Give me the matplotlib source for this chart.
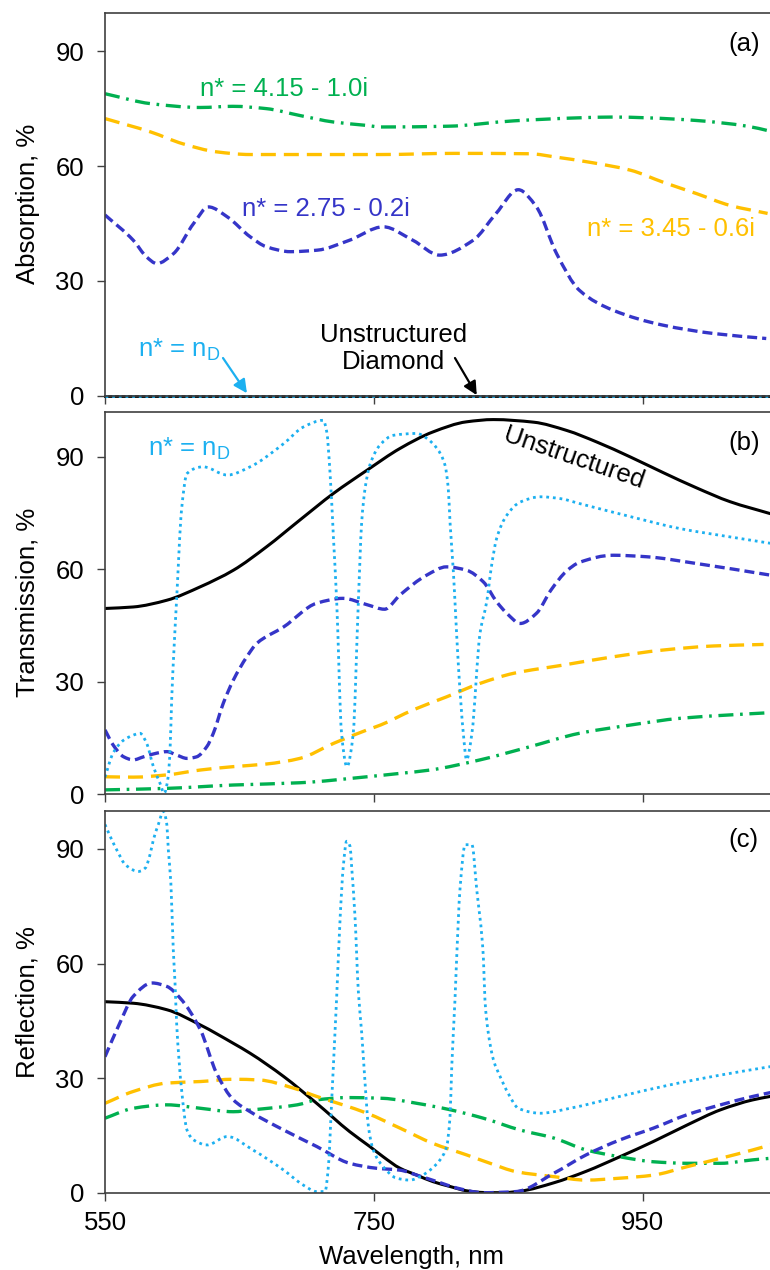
import matplotlib
matplotlib.use("Agg")
import matplotlib.pyplot as plt
import numpy as np
from matplotlib.path import Path
from matplotlib.patches import PathPatch

plt.rcParams['font.family'] = ['Liberation Sans', 'DejaVu Sans']
plt.rcParams['font.size'] = 18.5

# colours of the four effective-index series
C_GREEN = '#00B050'
C_ORANGE = '#FFC000'
C_BLUE = '#3535C8'
C_CYAN = '#1CB0F0'

# ---------------- (a) Absorption ----------------
a_wl_green = [550, 584, 621, 645, 670, 695, 720, 745, 755, 805, 854, 903, 928, 953, 990, 1028, 1045]
a_green = [78.9, 76.3, 75.3, 75.6, 75.0, 73.2, 71.5, 70.6, 70.2, 70.4, 71.8, 72.6, 72.8, 72.6, 71.9, 70.4, 69.1]

a_wl_orange = [550, 584, 608, 633, 658, 700, 755, 810, 866, 886, 912, 941, 965, 990, 1015, 1043]
a_orange = [72.4, 68.9, 65.8, 63.7, 63.0, 63.0, 63.0, 63.3, 63.2, 62.3, 60.9, 58.9, 55.8, 52.8, 49.7, 47.6]

a_wl_blue = [550, 571, 581, 588.5, 601, 616, 627, 641, 658, 670, 688, 708, 732, 757, 779, 799,
             824, 841, 857.5, 871, 886, 903, 928, 965, 1003, 1042]
a_blue = [47.2, 40.6, 36.2, 34.5, 37.1, 45.0, 49.3, 46.7, 41.5, 38.9, 37.6, 38.0, 40.6, 44.1, 40.6, 36.7,
          40.6, 47.6, 53.8, 49.3, 37.1, 27.5, 22.3, 18.4, 16.2, 14.9]

a_wl_flat = [550, 1050]
a_black = [0, 0]
a_cyan = [0, 0]

# ---------------- (b) Transmission ----------------
b_wl_black = [550, 571, 596, 621, 645.5, 670, 695, 720, 745, 769.5, 794, 819, 839, 869, 893.5,
              916, 941, 965, 990, 1015, 1045]
b_black = [49.5, 49.9, 51.7, 55.3, 59.7, 65.9, 73.1, 80.2, 86.4, 92.2, 96.6, 99.3, 99.9, 99.2, 97.0,
           93.9, 89.9, 85.8, 81.7, 78.0, 74.8]

b_wl_cyan = [550, 556, 564, 571, 576, 581, 586, 591, 594, 597, 598.4, 599.6, 601.3, 603.3, 607, 611,
             623, 641, 658, 683, 697.5, 712.4, 715, 717.4, 720, 722.4, 726, 730, 734.7, 738.5, 741,
             743.5, 747, 754.6, 764.5, 782, 789.4, 797, 803, 805.4, 806.7, 809.2, 810.4, 813, 816.6,
             819, 823, 829, 834, 837.7, 841.4, 849, 859, 874, 889, 903, 941, 978, 1015, 1045]
b_cyan = [4.5, 10.9, 14.4, 15.7, 16.2, 13.5, 7.3, 2.8, 0.2, 4.6, 11.7, 25.1, 38.4, 52.0, 76.0, 85.5,
          87.3, 85.1, 87.3, 93.5, 97.9, 99.7, 96.6, 85.9, 68.2, 51.3, 16.2, 7.3, 16.2, 51.3, 72.6,
          81.5, 87.7, 93.1, 95.7, 96.2, 94.9, 92.2, 87.7, 81.5, 72.6, 59.3, 51.3, 33.9, 16.2,
          9.1, 16.2, 42.8, 51.3, 61.1, 68.2, 74.4, 77.9, 79.3, 78.8, 77.5, 74.0, 70.8, 68.6, 66.9]

b_wl_blue = [550, 556, 564, 571, 578.5, 588.5, 596, 603.3, 611, 618, 625.7, 630.6, 638, 645.5, 655.5,
             663, 683, 707.5, 727, 745, 758, 769.5, 789.4, 804, 819, 831.5, 841.4, 849, 859, 871,
             882, 893.5, 903, 928, 953, 990, 1045]
b_blue = [17.1, 13.1, 9.9, 9.1, 9.9, 10.9, 11.3, 10.4, 9.5, 9.9, 12.6, 16.2, 24.2, 30.4, 36.6,
          40.2, 44.6, 50.9, 52.2, 50.5, 49.3, 53.1, 58.4, 60.6, 59.7, 56.6, 51.3, 48.2, 45.5, 48.2,
          54.5, 59.5, 61.8, 63.7, 63.3, 61.5, 58.4]

b_wl_orange = [550, 571, 596, 621, 645.5, 670, 695, 720, 745, 755, 779, 804, 829, 854, 891, 928, 965, 1003, 1040]
b_orange = [4.6, 4.5, 5.1, 6.4, 7.3, 8.0, 9.5, 13.5, 17.1, 18.4, 22.4, 25.9, 29.5, 32.2, 34.4, 36.6, 38.4, 39.5, 39.9]

b_wl_green = [550, 596, 645.5, 695, 745, 769.5, 792, 829, 866, 903, 941, 978, 1015, 1045]
b_green = [1.1, 1.5, 2.4, 3.0, 4.6, 5.5, 6.4, 9.1, 12.6, 16.2, 18.4, 20.2, 21.1, 21.7]

# ---------------- (c) Reflection ----------------
c_wl_black = [550, 571, 596, 621, 645.5, 658, 683, 707.5, 732, 747, 757, 769.5, 782, 794, 807, 819,
              831.5, 846, 859, 884, 908, 933, 958, 983, 1008, 1032, 1045]
c_black = [50.0, 49.6, 47.9, 43.9, 39.1, 36.5, 30.4, 23.4, 16.0, 12.1, 9.4, 6.4, 4.6, 2.9, 1.6, 0.5,
           0.05, 0.0, 0.4, 2.6, 5.6, 9.4, 13.4, 17.7, 21.7, 24.3, 25.2]

c_wl_blue = [550, 561, 571, 585, 596, 606, 621, 633, 645.5, 658, 683, 707.5, 732, 752, 769.5, 782,
             797, 812, 831.5, 856, 884, 908, 933, 958, 983, 1008, 1032, 1045]
c_blue = [35.6, 44.4, 51.4, 54.9, 54.0, 50.9, 42.6, 31.3, 24.3, 21.2, 16.4, 12.1, 7.7, 6.4, 5.9, 4.6,
          2.9, 1.2, 0.0, 0.3, 5.1, 9.9, 13.8, 16.9, 20.4, 23.0, 25.2, 26.2]

c_wl_orange = [550, 571, 596, 621, 645.5, 665, 690, 707.5, 727, 745, 769.5, 794, 819, 836.5, 856,
               884, 908, 933, 958, 983, 1008, 1032, 1045]
c_orange = [23.4, 26.5, 28.7, 29.1, 29.7, 29.5, 27.4, 25.2, 23.0, 20.8, 16.9, 12.9, 9.9, 7.7, 5.5,
            4.2, 3.3, 3.8, 4.6, 6.8, 9.0, 11.2, 12.5]

c_wl_green = [550, 571, 596, 621, 645.5, 660, 693, 707.5, 732, 757, 782, 807, 831.5, 859, 884, 908,
              933, 958, 983, 1008, 1032, 1045]
c_green = [19.5, 22.1, 23.0, 22.1, 21.2, 21.7, 23.0, 24.3, 24.9, 24.7, 23.4, 21.7, 19.5, 16.4, 14.3,
           11.2, 9.4, 8.1, 7.7, 7.7, 8.6, 9.0]

c_wl_cyan = [550, 555, 560, 565, 575, 580, 583.5, 586, 589.7, 593.4, 596, 597.1, 599, 600.8, 602.1,
             603.3, 607, 611, 616, 626, 641, 660, 683, 697.5, 707.5, 713.7, 716.2, 718.7, 721.1,
             722.4, 725, 727.3, 729.8, 732.3, 733.5, 736, 738.5, 741, 743.5, 746, 749.6, 757, 767,
             777, 784.4, 791.8, 799.3, 804.2, 806.7, 808, 810.4, 811.7, 814.1, 818, 823, 826.6,
             831.5, 832.7, 835.2, 839, 844, 850, 857.5, 874, 896, 933, 970, 1008, 1045]
c_cyan = [96.4, 92.4, 88.9, 85.9, 84.1, 85.0, 88.5, 92.4, 96.4, 99.8, 96.4, 89.8, 81.1, 63.6, 54.9,
          44.4, 26.9, 16.4, 13.8, 12.5, 14.7, 11.2, 5.9, 2.0, 0.3, 0.3, 6.8, 24.3, 41.8,
          51.4, 72.3, 85.4, 92.0, 90.7, 85.4, 72.3, 52.7, 41.8, 28.7, 17.3, 11.2, 6.8, 3.8,
          3.3, 4.2, 5.9, 8.6, 12.1, 19.9, 33.0, 50.5, 61.8, 79.3, 91.1, 91.1, 79.3,
          61.8, 50.5, 41.8, 34.8, 30.4, 26.0, 22.1, 20.8, 22.1, 25.2, 28.2, 30.8, 33.0]

x_ticks = [550, 750, 950]
y_ticks = [0, 30, 60, 90]

LW = 2.4
sty_black = dict(color='black', lw=2.2, ls='-')
sty_green = dict(color=C_GREEN, lw=LW, ls=(0, (4.5, 2.0, 0.8, 2.0)))
sty_orange = dict(color=C_ORANGE, lw=LW, ls=(0, (4.5, 2.4)))
sty_blue = dict(color=C_BLUE, lw=LW, ls=(0, (3.0, 1.5)))
sty_cyan = dict(color=C_CYAN, lw=2.0, ls=(0, (1.0, 1.4)))


def smooth_curve(ax, x, y, color, lw, ls):
    # draw like a "smoothed line" chart: bezier segments through the read points
    x = np.asarray(x, float)
    y = np.asarray(y, float)
    h = np.diff(x)
    d = np.diff(y) / h
    m = np.zeros_like(y)
    m[0], m[-1] = d[0], d[-1]
    for i in range(1, len(y) - 1):
        if d[i - 1] * d[i] <= 0:
            m[i] = 0.0
        else:
            w1 = 2 * h[i] + h[i - 1]
            w2 = h[i] + 2 * h[i - 1]
            m[i] = (w1 + w2) / (w1 / d[i - 1] + w2 / d[i])
    verts = [(x[0], y[0])]
    codes = [Path.MOVETO]
    for i in range(len(h)):
        verts += [(x[i] + h[i] / 3, y[i] + m[i] * h[i] / 3),
                  (x[i + 1] - h[i] / 3, y[i + 1] - m[i + 1] * h[i] / 3),
                  (x[i + 1], y[i + 1])]
        codes += [Path.CURVE4] * 3
    patch = PathPatch(Path(verts, codes), fill=False, edgecolor=color, lw=lw,
                      linestyle=ls, joinstyle='round', capstyle='butt')
    ax.add_patch(patch)


fig = plt.figure(figsize=(7.7, 12.7), dpi=100)
W, H = 770.0, 1270.0
left = 105 / W
width = 672 / W


def make_ax(top_px, bot_px, ymax):
    ax = fig.add_axes([left, 1 - bot_px / H, width, (bot_px - top_px) / H])
    ax.set_xlim(550, 1050)
    ax.set_ylim(0, ymax)
    ax.set_xticks(x_ticks)
    ax.set_yticks(y_ticks)
    for s in ['left', 'top', 'bottom']:
        ax.spines[s].set_color('#404040')
        ax.spines[s].set_linewidth(1.2)
    ax.spines['right'].set_visible(False)
    ax.tick_params(direction='out', length=6, width=1, color='#404040', labelsize=18.5)
    ax.tick_params(axis='y', pad=9)
    ax.tick_params(axis='x', pad=7)
    return ax


ax_a = make_ax(13, 395.5, 100)
ax_b = make_ax(411.7, 794, 102)
ax_c = make_ax(810.7, 1192.7, 100)

# (a)
ax_a.plot(a_wl_flat, a_black, clip_on=False, color='black', lw=2.0)
ax_a.plot(a_wl_flat, a_cyan, clip_on=False, color=C_CYAN, lw=2.0, dashes=(1.0, 1.4))
smooth_curve(ax_a, a_wl_green, a_green, **sty_green)
smooth_curve(ax_a, a_wl_orange, a_orange, **sty_orange)
smooth_curve(ax_a, a_wl_blue, a_blue, **sty_blue)

# (b)
smooth_curve(ax_b, b_wl_black, b_black, **sty_black)
smooth_curve(ax_b, b_wl_green, b_green, **sty_green)
smooth_curve(ax_b, b_wl_orange, b_orange, **sty_orange)
smooth_curve(ax_b, b_wl_blue, b_blue, **sty_blue)
smooth_curve(ax_b, b_wl_cyan, b_cyan, **sty_cyan)

# (c)
smooth_curve(ax_c, c_wl_black, c_black, **sty_black)
smooth_curve(ax_c, c_wl_green, c_green, **sty_green)
smooth_curve(ax_c, c_wl_orange, c_orange, **sty_orange)
smooth_curve(ax_c, c_wl_blue, c_blue, **sty_blue)
smooth_curve(ax_c, c_wl_cyan, c_cyan, **sty_cyan)

ax_a.tick_params(axis='x', labelbottom=False)
ax_b.tick_params(axis='x', labelbottom=False)

ax_a.set_ylabel('Absorption, %', fontsize=18.5)
ax_b.set_ylabel('Transmission, %', fontsize=18.5)
ax_c.set_ylabel('Reflection, %', fontsize=18.5)
for ax in (ax_a, ax_b, ax_c):
    ax.yaxis.set_label_coords(-0.097, 0.5)
ax_c.set_xlabel('Wavelength, nm', fontsize=18.5)
ax_c.xaxis.set_label_coords(0.456, -0.138)

nd_label = r'n* = n$_\mathregular{D}$'

# annotations, panel (a)
ax_a.text(620.7, 78.2, 'n* = 4.15 - 1.0i', color=C_GREEN, ha='left', va='baseline')
ax_a.text(651.7, 46.9, 'n* = 2.75 - 0.2i', color=C_BLUE, ha='left', va='baseline')
ax_a.text(908.4, 41.6, 'n* = 3.45 - 0.6i', color=C_ORANGE, ha='left', va='baseline')
ax_a.text(1013.5, 92, '(a)', color='black', ha='left', va='center')
ax_a.text(574.5, 10.1, nd_label, color=C_CYAN, ha='left', va='baseline')
ax_a.text(765, 12.3, 'Unstructured\nDiamond', color='black', ha='center', va='center',
          linespacing=1.15)
ax_a.annotate('', xy=(655.6, 0.6), xytext=(637.8, 9.8),
              arrowprops=dict(arrowstyle='-|>', color=C_CYAN, lw=1.6, mutation_scale=20,
                              shrinkA=0, shrinkB=0))
ax_a.annotate('', xy=(826.6, 0.1), xytext=(810.4, 9.8),
              arrowprops=dict(arrowstyle='-|>', color='black', lw=1.6, mutation_scale=20,
                              shrinkA=0, shrinkB=0))

# annotations, panel (b)
ax_b.text(582, 90.4, nd_label, color=C_CYAN, ha='left', va='baseline')
ax_b.text(1013.5, 93.6, '(b)', color='black', ha='left', va='center')
ax_b.text(899, 89.6, 'Unstructured', color='black', ha='center', va='center',
          rotation=-19, rotation_mode='anchor')

# annotations, panel (c)
ax_c.text(1013.5, 92.4, '(c)', color='black', ha='left', va='center')

fig.savefig('out.png', dpi=100)
